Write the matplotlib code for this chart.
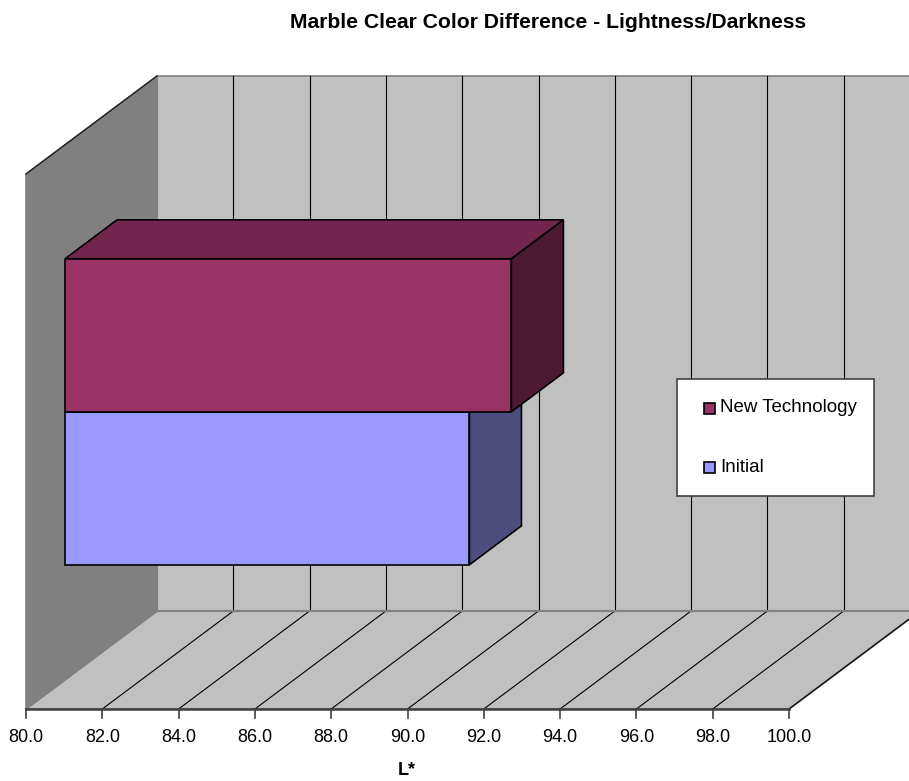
import matplotlib.pyplot as plt
from matplotlib.patches import Polygon, Rectangle

plt.rcParams['font.family'] = ['Liberation Sans', 'DejaVu Sans']

# series values (L*)
series = ["Initial", "New Technology"]
values = [90.6, 91.7]
colors = ["#9999FF", "#993366"]
side_colors = ["#4D4D80", "#4D1A33"]
top_colors = ["#73739F", "#73264D"]

ticks = [80, 82, 84, 86, 88, 90, 92, 94, 96, 98, 100]
tick_labels = ["%.1f" % t for t in ticks]

# oblique 3-D box layout (pixel space vertically, value units horizontally)
FLOOR_Y = 709
WALL_H = 535
DX = 131 / 38.15
DY = 98
D0, D1 = 0.298, 0.695
BAR_LO = 0.215 * WALL_H
BAR_H = 153


def proj(v, h, d):
    return (v + d * DX, FLOOR_Y - h - d * DY)


fig = plt.figure(figsize=(9.09, 7.81), dpi=100)
ax = fig.add_axes([26 / 909, 0, 763 / 909, 1])
ax.set_xlim(80, 100)
ax.set_ylim(781, 0)
ax.axis('off')

lo, hi = ticks[0], ticks[-1]

# back wall
ax.add_patch(Polygon([proj(lo, 0, 1), proj(lo, WALL_H, 1), proj(hi, WALL_H, 1),
                      proj(hi, 0, 1)], closed=True, fc='#C0C0C0', ec='#808080',
                     lw=1.2, clip_on=False, zorder=1))
# left wall
ax.add_patch(Polygon([proj(lo, 0, 0), proj(lo, WALL_H, 0), proj(lo, WALL_H, 1),
                      proj(lo, 0, 1)], closed=True, fc='#808080', ec='#808080',
                     lw=1.2, clip_on=False, zorder=1))
ax.plot(*zip(proj(lo, WALL_H, 0), proj(lo, WALL_H, 1)), color='#202020', lw=1,
        clip_on=False, zorder=1.5)
# floor
ax.add_patch(Polygon([proj(lo, 0, 0), proj(hi, 0, 0), proj(hi, 0, 1), proj(lo, 0, 1)],
                     closed=True, fc='#C0C0C0', ec='#808080', lw=1.5, clip_on=False,
                     zorder=1))

# gridlines on floor and back wall
for t in ticks[1:]:
    ax.plot(*zip(proj(t, 0, 0), proj(t, 0, 1)), color='black', lw=0.8,
            clip_on=False, zorder=2)
    ax.plot(*zip(proj(t, 0, 1), proj(t, WALL_H, 1)), color='black', lw=0.8,
            clip_on=False, zorder=2)
ax.plot(*zip(proj(lo, 0, 1), proj(hi, 0, 1)), color='#808080', lw=1.5,
        clip_on=False, zorder=2)

# front axis line, ticks and labels
ax.plot([lo, hi], [FLOOR_Y, FLOOR_Y], color='#404040', lw=1.8, clip_on=False, zorder=3)
for t, lab in zip(ticks, tick_labels):
    ax.plot([t, t], [FLOOR_Y, FLOOR_Y + 9], color='#404040', lw=1.2, clip_on=False)
    ax.text(t, 742, lab, ha='center', va='baseline', fontsize=13)

# bars
for i, (name, v) in enumerate(zip(series, values)):
    b = BAR_LO + i * BAR_H
    t = b + BAR_H
    front = [proj(lo, b, D0), proj(v, b, D0), proj(v, t, D0), proj(lo, t, D0)]
    top = [proj(lo, t, D0), proj(v, t, D0), proj(v, t, D1), proj(lo, t, D1)]
    side = [proj(v, b, D0), proj(v, b, D1), proj(v, t, D1), proj(v, t, D0)]
    for poly, fc in ((top, top_colors[i]), (side, side_colors[i]), (front, colors[i])):
        ax.add_patch(Polygon(poly, closed=True, fc=fc, ec='black', lw=1.2,
                             clip_on=False, zorder=5))

# overlay in pixel coordinates for title, axis title and legend
ov = fig.add_axes([0, 0, 1, 1])
ov.set_xlim(0, 909)
ov.set_ylim(781, 0)
ov.axis('off')
ov.patch.set_alpha(0)

ov.text(548, 28, "Marble Clear Color Difference - Lightness/Darkness",
        ha='center', va='baseline', fontsize=15.2, fontweight='bold')
ov.text(407, 775, "L*", ha='center', va='baseline', fontsize=13, fontweight='bold')

ov.add_patch(Rectangle((677, 379), 197, 117, fc='white', ec='#404040', lw=1.2))
for k, i in enumerate([1, 0]):
    yc = 408 + k * 59
    ov.add_patch(Rectangle((704, yc - 5.5), 11, 11, fc=colors[i], ec='black', lw=1.2))
    ov.text(720, yc, series[i], ha='left', va='center', fontsize=13.5)

fig.savefig("out.png", dpi=100)
